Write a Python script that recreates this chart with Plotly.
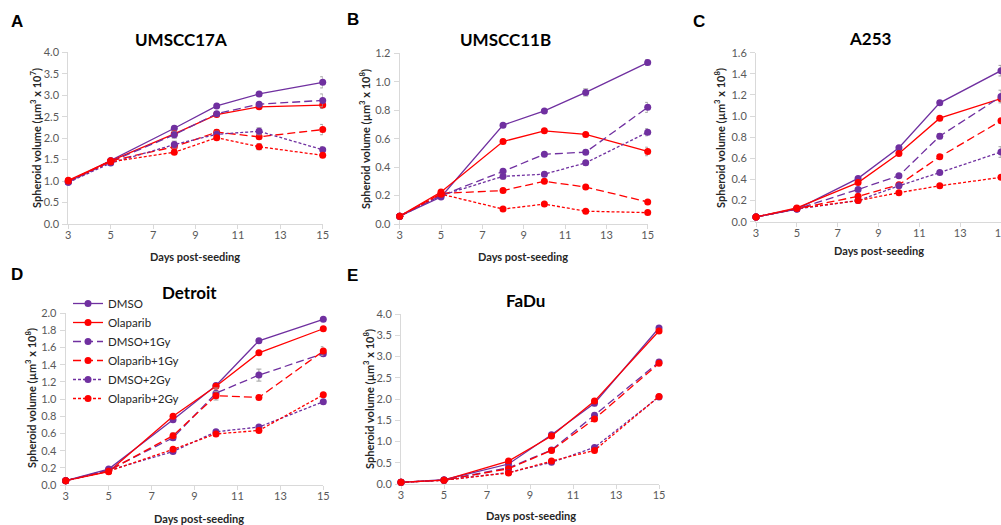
import plotly.graph_objects as go

# ---------------- data ----------------
days = [3, 5, 8, 10, 12, 15]
series_names = ["DMSO", "Olaparib", "DMSO+1Gy", "Olaparib+1Gy", "DMSO+2Gy", "Olaparib+2Gy"]

# A: UMSCC17A (x10^7)
a_dmso = [0.98, 1.48, 2.23, 2.75, 3.03, 3.30]
a_olap = [1.02, 1.47, 2.10, 2.55, 2.73, 2.77]
a_dmso1 = [0.98, 1.45, 2.08, 2.57, 2.79, 2.88]
a_olap1 = [1.00, 1.47, 1.80, 2.14, 2.03, 2.20]
a_dmso2 = [0.97, 1.42, 1.85, 2.09, 2.16, 1.73]
a_olap2 = [1.00, 1.45, 1.67, 2.01, 1.80, 1.60]
a_err = [[0.03, 0.03, 0.05, 0.04, 0.04, 0.13],
         [0.03, 0.03, 0.04, 0.04, 0.04, 0.08],
         [0.03, 0.03, 0.08, 0.05, 0.04, 0.15],
         [0.03, 0.03, 0.05, 0.06, 0.05, 0.12],
         [0.03, 0.03, 0.08, 0.07, 0.08, 0.07],
         [0.03, 0.03, 0.04, 0.04, 0.07, 0.05]]

# B: UMSCC11B (x10^8)
b_dmso = [0.055, 0.19, 0.695, 0.795, 0.925, 1.135]
b_olap = [0.055, 0.225, 0.58, 0.655, 0.63, 0.51]
b_dmso1 = [0.055, 0.20, 0.37, 0.49, 0.505, 0.82]
b_olap1 = [0.055, 0.215, 0.235, 0.30, 0.26, 0.155]
b_dmso2 = [0.055, 0.20, 0.335, 0.35, 0.43, 0.645]
b_olap2 = [0.055, 0.21, 0.105, 0.14, 0.09, 0.08]
b_err = [[0.005, 0.01, 0.01, 0.01, 0.025, 0.02],
         [0.005, 0.01, 0.01, 0.01, 0.01, 0.03],
         [0.005, 0.01, 0.015, 0.01, 0.015, 0.035],
         [0.005, 0.01, 0.01, 0.01, 0.01, 0.01],
         [0.005, 0.01, 0.02, 0.015, 0.015, 0.025],
         [0.005, 0.01, 0.01, 0.01, 0.01, 0.01]]

# C: A253 (x10^8)
c_dmso = [0.045, 0.12, 0.41, 0.70, 1.125, 1.43]
c_olap = [0.045, 0.13, 0.37, 0.645, 0.98, 1.165]
c_dmso1 = [0.045, 0.12, 0.305, 0.435, 0.81, 1.185]
c_olap1 = [0.045, 0.125, 0.24, 0.35, 0.615, 0.955]
c_dmso2 = [0.045, 0.12, 0.20, 0.34, 0.465, 0.66]
c_olap2 = [0.045, 0.125, 0.20, 0.275, 0.34, 0.42]
c_err = [[0.005, 0.01, 0.01, 0.015, 0.02, 0.05],
         [0.005, 0.01, 0.01, 0.01, 0.015, 0.02],
         [0.005, 0.01, 0.01, 0.01, 0.025, 0.06],
         [0.005, 0.01, 0.01, 0.01, 0.015, 0.02],
         [0.005, 0.01, 0.01, 0.01, 0.015, 0.05],
         [0.005, 0.01, 0.01, 0.01, 0.01, 0.01]]

# D: Detroit (x10^8)
d_dmso = [0.05, 0.185, 0.76, 1.16, 1.68, 1.93]
d_olap = [0.05, 0.155, 0.80, 1.15, 1.54, 1.82]
d_dmso1 = [0.05, 0.175, 0.55, 1.07, 1.28, 1.53]
d_olap1 = [0.05, 0.165, 0.575, 1.04, 1.02, 1.56]
d_dmso2 = [0.05, 0.17, 0.39, 0.62, 0.675, 0.97]
d_olap2 = [0.05, 0.16, 0.415, 0.595, 0.635, 1.05]
d_err = [[0.005, 0.01, 0.02, 0.02, 0.02, 0.02],
         [0.005, 0.01, 0.02, 0.02, 0.02, 0.02],
         [0.005, 0.01, 0.03, 0.06, 0.07, 0.03],
         [0.005, 0.01, 0.03, 0.05, 0.02, 0.05],
         [0.005, 0.01, 0.02, 0.02, 0.02, 0.02],
         [0.005, 0.01, 0.02, 0.02, 0.02, 0.02]]

# E: FaDu (x10^8)
e_dmso = [0.04, 0.10, 0.47, 1.16, 1.90, 3.67]
e_olap = [0.04, 0.09, 0.54, 1.13, 1.95, 3.60]
e_dmso1 = [0.04, 0.09, 0.38, 0.80, 1.62, 2.87]
e_olap1 = [0.04, 0.09, 0.36, 0.79, 1.53, 2.84]
e_dmso2 = [0.04, 0.09, 0.27, 0.51, 0.86, 2.05]
e_olap2 = [0.04, 0.09, 0.26, 0.54, 0.79, 2.06]
e_err = [[0.005, 0.01, 0.03, 0.04, 0.06, 0.05],
         [0.005, 0.01, 0.03, 0.04, 0.05, 0.05],
         [0.005, 0.01, 0.03, 0.03, 0.05, 0.05],
         [0.005, 0.01, 0.03, 0.03, 0.04, 0.05],
         [0.005, 0.01, 0.02, 0.03, 0.04, 0.04],
         [0.005, 0.01, 0.02, 0.03, 0.03, 0.04]]

panel_titles = ["UMSCC17A", "UMSCC11B", "A253", "Detroit", "FaDu"]
panel_letters = ["A", "B", "C", "D", "E"]
y_exponents = ["7", "8", "8", "8", "8"]
y_max = [4.0, 1.2, 1.6, 2.0, 4.0]
y_step = [0.5, 0.2, 0.2, 0.2, 0.5]
x_ticks = [3, 5, 7, 9, 11, 13, 15]

panels = [
    [a_dmso, a_olap, a_dmso1, a_olap1, a_dmso2, a_olap2],
    [b_dmso, b_olap, b_dmso1, b_olap1, b_dmso2, b_olap2],
    [c_dmso, c_olap, c_dmso1, c_olap1, c_dmso2, c_olap2],
    [d_dmso, d_olap, d_dmso1, d_olap1, d_dmso2, d_olap2],
    [e_dmso, e_olap, e_dmso1, e_olap1, e_dmso2, e_olap2],
]
panel_errs = [a_err, b_err, c_err, d_err, e_err]

# ---------------- styles ----------------
W, H = 1001, 525
PURPLE = "#7030A0"
RED = "#FF0000"
colors = [PURPLE, RED, PURPLE, RED, PURPLE, RED]
dashes = ["solid", "solid", "8px,4px", "8px,4px", "3px,2px", "3px,2px"]
FONT = "Lato, Carlito, Calibri, 'DejaVu Sans', sans-serif"
AXIS_C = "#D9D9D9"
TICK_C = "#595959"

# plot-area boxes in pixels: left, right, top, bottom
boxes = [
    (68.3, 322.7, 52.3, 224.0),
    (399.7, 647.7, 53.3, 224.0),
    (756.0, 1001.0, 52.7, 221.7),
    (65.7, 323.3, 313.3, 485.0),
    (401.0, 659.0, 314.0, 484.0),
]
title_pos = [(181, 40), (505, 40), (870, 38), (189, 292), (525, 300)]
letter_pos = [(17, 21), (353, 20), (699, 21), (17, 274), (352, 275)]
xtitle_pos = [(195, 256), (523, 256), (879, 250), (199, 518), (531, 515)]
ytitle_pos = [(35, 138), (364, 139), (719, 138), (30, 398), (368, 399)]


def px(x):
    return x / W


def py(y):
    return 1 - y / H


fig = go.Figure()
layout = dict(
    width=W, height=H, margin=dict(l=0, r=0, t=0, b=0, autoexpand=False),
    paper_bgcolor="white", plot_bgcolor="white",
    font=dict(family=FONT, color="#000000"),
    showlegend=True,
    legend=dict(x=px(68), y=py(289), xanchor="left", yanchor="top",
                bgcolor="rgba(0,0,0,0)", font=dict(size=11.5, family=FONT, color="#262626"),
                tracegroupgap=0),
    annotations=[],
)

for i in range(5):
    k = "" if i == 0 else str(i + 1)
    l, r, t, b = boxes[i]
    nt = int(round(y_max[i] / y_step[i]))
    yt = [round(j * y_step[i], 2) for j in range(nt + 1)]
    layout["xaxis" + k] = dict(
        domain=[px(l), px(r)], anchor="y" + k, range=[3, 15],
        tickvals=x_ticks, ticks="outside", ticklen=4, tickcolor=AXIS_C,
        showline=True, linecolor=AXIS_C, linewidth=1, showgrid=False, zeroline=False,
        tickfont=dict(size=11, family=FONT, color=TICK_C), ticklabelstandoff=-3,
        ticklabeloverflow="allow", automargin=False,
        layer="below traces",
    )
    layout["yaxis" + k] = dict(
        domain=[py(b), py(t)], anchor="x" + k, range=[0, y_max[i]],
        tickvals=yt, tickformat=".1f", ticks="outside", ticklen=5, tickcolor=AXIS_C,
        showline=True, linecolor=AXIS_C, linewidth=1, showgrid=False, zeroline=False,
        tickfont=dict(size=11, family=FONT, color=TICK_C), ticklabelstandoff=1,
        ticklabeloverflow="allow", automargin=False,
        layer="below traces",
    )
    for j in range(6):
        fig.add_trace(go.Scatter(
            x=days, y=panels[i][j], name=series_names[j],
            xaxis="x" + k, yaxis="y" + k,
            mode="lines+markers",
            line=dict(color=colors[j], width=1.3, dash=dashes[j]),
            marker=dict(color=colors[j], size=7, symbol="circle"),
            error_y=dict(type="data", array=panel_errs[i][j], color="#A0A0A0",
                         thickness=1, width=2.5),
            cliponaxis=False,
            showlegend=(i == 3),
        ))
    ann = layout["annotations"]
    ann.append(dict(text="<b>%s</b>" % panel_titles[i], x=px(title_pos[i][0]), y=py(title_pos[i][1]),
                    xref="paper", yref="paper", showarrow=False, xanchor="center", yanchor="middle",
                    font=dict(size=17, family=FONT, color="#000000")))
    ann.append(dict(text="<b>%s</b>" % panel_letters[i], x=px(letter_pos[i][0]), y=py(letter_pos[i][1]),
                    xref="paper", yref="paper", showarrow=False, xanchor="center", yanchor="middle",
                    font=dict(size=17, family="'Liberation Sans', Arial, sans-serif", color="#000000")))
    ann.append(dict(text="<b>Days post-seeding</b>", x=px(xtitle_pos[i][0]), y=py(xtitle_pos[i][1]),
                    xref="paper", yref="paper", showarrow=False, xanchor="center", yanchor="middle",
                    font=dict(size=11, family=FONT, color="#262626")))
    ann.append(dict(text="<b>Spheroid volume (µm<sup>3</sup> x 10<sup>%s</sup>)</b>" % y_exponents[i],
                    x=px(ytitle_pos[i][0]), y=py(ytitle_pos[i][1]), textangle=-90,
                    xref="paper", yref="paper", showarrow=False, xanchor="center", yanchor="middle",
                    font=dict(size=11, family=FONT, color="#262626")))

fig.update_layout(**layout)
fig.write_html("out.html")
